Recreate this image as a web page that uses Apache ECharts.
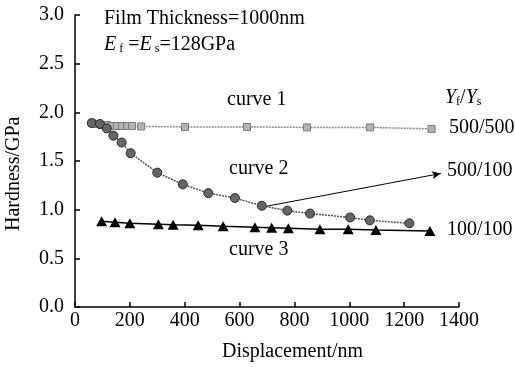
<!DOCTYPE html>
<html>
<head>
<meta charset="utf-8">
<script src="https://cdn.jsdelivr.net/npm/echarts@6/dist/echarts.min.js"></script>
<style>html,body{margin:0;padding:0;background:#fff}#c{width:515px;height:367px}</style>
</head>
<body>
<div id="c"></div>
<script>
// Data
const xTicks = [0, 200, 400, 600, 800, 1000, 1200, 1400];
const yTicks = [0.0, 0.5, 1.0, 1.5, 2.0, 2.5, 3.0];

const curve1X = [62, 80, 98, 117, 135, 153, 171, 190, 208, 241, 401, 627, 846, 1076, 1300];
const curve1Y = [1.89, 1.88, 1.87, 1.87, 1.86, 1.86, 1.86, 1.86, 1.86, 1.855, 1.85, 1.85, 1.845, 1.845, 1.83];

const curve2X = [61, 91, 116, 140, 170, 203, 300, 393, 486, 583, 681, 774, 857, 1003, 1075, 1219];
const curve2Y = [1.89, 1.88, 1.835, 1.76, 1.69, 1.58, 1.38, 1.26, 1.17, 1.12, 1.04, 0.99, 0.96, 0.92, 0.89, 0.86];

const curve3X = [97, 146, 200, 304, 358, 449, 540, 656, 717, 778, 893, 996, 1097, 1294];
const curve3Y = [0.88, 0.87, 0.86, 0.85, 0.845, 0.84, 0.83, 0.82, 0.815, 0.81, 0.80, 0.80, 0.79, 0.78];

const arrowFrom = [700, 1.036];
const arrowTo = [1334, 1.372];

const zip = (xs, ys) => xs.map((x, i) => [x, ys[i]]);
const FONT = '"Liberation Serif", "DejaVu Serif", serif';
const FS = 20;

const chart = echarts.init(document.getElementById('c'), null, {renderer: 'canvas'});
const richSub = {
  i: {fontFamily: FONT, fontSize: FS, fontStyle: 'italic', lineHeight: 24, verticalAlign: 'bottom'},
  n: {fontFamily: FONT, fontSize: FS, lineHeight: 24, verticalAlign: 'bottom'},
  sb: {fontFamily: FONT, fontSize: 12, lineHeight: 20, verticalAlign: 'bottom'}
};
chart.setOption({
  animation: false,
  backgroundColor: '#fff',
  grid: {left: 75, right: 56, top: 15, bottom: 60, containLabel: false},
  xAxis: {
    type: 'value', min: xTicks[0], max: xTicks[xTicks.length - 1], interval: 200,
    axisLine: {lineStyle: {color: '#000', width: 1.5}},
    axisTick: {inside: true, length: 5, lineStyle: {color: '#000', width: 1.5}},
    splitLine: {show: false},
    axisLabel: {color: '#000', fontFamily: FONT, fontSize: FS, margin: 4, formatter: v => String(v)}
  },
  yAxis: {
    type: 'value', min: yTicks[0], max: yTicks[yTicks.length - 1], interval: 0.5,
    axisLine: {show: true, lineStyle: {color: '#000', width: 1.5}},
    axisTick: {show: true, inside: true, length: 5, lineStyle: {color: '#000', width: 1.5}},
    splitLine: {show: false},
    axisLabel: {color: '#000', fontFamily: FONT, fontSize: FS, margin: 11, formatter: v => v.toFixed(1)}
  },
  series: [
    {
      name: 'curve 1', type: 'line', data: zip(curve1X, curve1Y),
      symbol: 'rect', symbolSize: 7,
      itemStyle: {color: '#b4b4b4', borderColor: '#7a7a7a', borderWidth: 1},
      lineStyle: {color: '#8a8a8a', width: 1.5, type: [2, 1]},
      z: 2
    },
    {
      name: 'curve 2', type: 'line', data: zip(curve2X, curve2Y),
      symbol: 'circle', symbolSize: 9,
      itemStyle: {color: '#666', borderColor: '#2a2a2a', borderWidth: 1},
      lineStyle: {color: '#555', width: 1.5, type: [2, 1]},
      z: 3,
      markLine: {
        silent: true, symbol: ['none', 'arrow'], symbolSize: [6, 9],
        label: {show: false},
        lineStyle: {color: '#000', width: 1, type: 'solid'},
        data: [[{coord: arrowFrom}, {coord: arrowTo}]]
      }
    },
    {
      name: 'curve 3', type: 'line', data: zip(curve3X, curve3Y),
      symbol: 'triangle', symbolSize: [11, 10],
      itemStyle: {color: '#000'},
      lineStyle: {color: '#000', width: 1.5},
      z: 4
    }
  ],
  graphic: [
    {type: 'text', left: 104, top: 9, style: {text: 'Film Thickness=1000nm', font: FS + 'px ' + FONT, fill: '#000'}},
    {type: 'text', left: 104, top: 35, style: {
      text: '{i|E}{sb| f}{n| =}{i|E}{sb| s}{n|=128GPa}', fill: '#000', rich: richSub
    }},
    {type: 'text', left: 227, top: 90, style: {text: 'curve 1', font: FS + 'px ' + FONT, fill: '#000'}},
    {type: 'text', left: 229, top: 159, style: {text: 'curve 2', font: FS + 'px ' + FONT, fill: '#000'}},
    {type: 'text', left: 229, top: 240, style: {text: 'curve 3', font: FS + 'px ' + FONT, fill: '#000'}},
    {type: 'text', left: 445, top: 88, style: {
      text: '{i|Y}{sb|f}{n|/}{i|Y}{sb|s}', fill: '#000', rich: richSub
    }},
    {type: 'text', left: 449, top: 118, style: {text: '500/500', font: FS + 'px ' + FONT, fill: '#000'}},
    {type: 'text', left: 447, top: 161, style: {text: '500/100', font: FS + 'px ' + FONT, fill: '#000'}},
    {type: 'text', left: 447, top: 220, style: {text: '100/100', font: FS + 'px ' + FONT, fill: '#000'}},
    {type: 'text', left: 222, top: 342, style: {text: 'Displacement/nm', font: FS + 'px ' + FONT, fill: '#000'}},
    {type: 'text', x: 4, y: 231, rotation: Math.PI / 2, style: {text: 'Hardness/GPa', font: FS + 'px ' + FONT, fill: '#000'}}
  ]
});
</script>
</body>
</html>
